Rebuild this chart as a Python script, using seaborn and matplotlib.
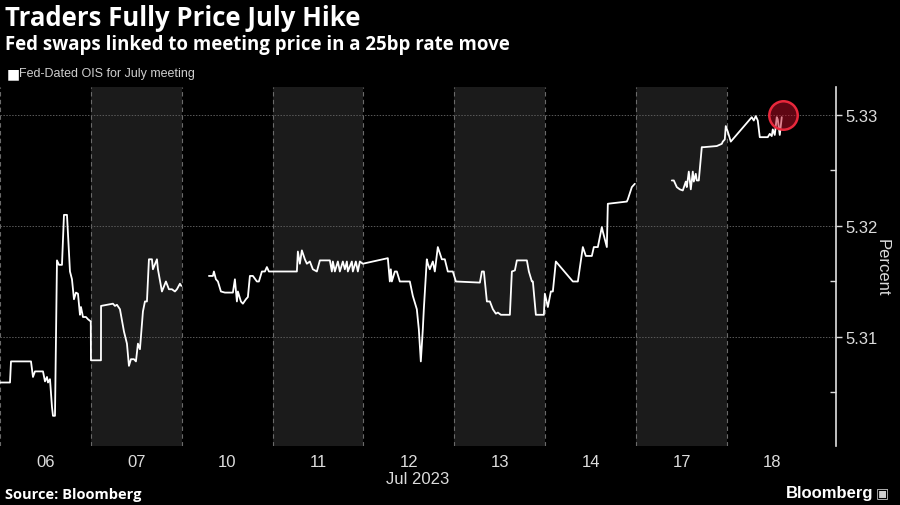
import numpy as np
import pandas as pd
import matplotlib
matplotlib.use("Agg")
import matplotlib.pyplot as plt
import seaborn as sns

# Fed-Dated OIS for July meeting, x = trading-day index (0 = Jul 06 open)
seg1_t = [0.000, 0.110, 0.121, 0.341, 0.363, 0.385, 0.473, 0.495, 0.517, 0.528, 0.550, 0.572,
          0.583, 0.605, 0.627, 0.649, 0.682, 0.704, 0.737, 0.770, 0.792, 0.814, 0.836, 0.858,
          0.880, 0.891, 0.913, 0.946, 0.968, 0.999, 1.001, 1.111, 1.112, 1.243, 1.265, 1.287,
          1.320, 1.364, 1.397, 1.419, 1.441, 1.474, 1.496, 1.518, 1.540, 1.573, 1.595, 1.617,
          1.639, 1.672, 1.683, 1.727, 1.738, 1.782, 1.826, 1.859, 1.892, 1.925, 1.947, 1.980,
          1.995]
seg1_v = [5.3059, 5.3059, 5.3078, 5.3078, 5.3064, 5.3069, 5.3069, 5.3060, 5.3064, 5.3059, 5.3062, 5.3037,
          5.3029, 5.3029, 5.3169, 5.3165, 5.3165, 5.3210, 5.3210, 5.3159, 5.3152, 5.3134, 5.3140, 5.3139,
          5.3120, 5.3127, 5.3118, 5.3118, 5.3116, 5.3114, 5.3079, 5.3079, 5.3128, 5.3130, 5.3128, 5.3129,
          5.3125, 5.3105, 5.3094, 5.3074, 5.3080, 5.3080, 5.3078, 5.3094, 5.3089, 5.3123, 5.3132, 5.3132,
          5.3170, 5.3170, 5.3161, 5.3170, 5.3161, 5.3141, 5.3150, 5.3143, 5.3143, 5.3141, 5.3143, 5.3148,
          5.3146]

seg2_t = [2.299, 2.343, 2.354, 2.376, 2.398, 2.431, 2.475, 2.563, 2.585, 2.607, 2.618, 2.651,
          2.673, 2.706, 2.728, 2.750, 2.783, 2.827, 2.849, 2.882, 2.915, 2.937, 2.959, 3.267,
          3.278, 3.300, 3.322, 3.355, 3.377, 3.410, 3.443, 3.487, 3.520, 3.630, 3.652, 3.663,
          3.685, 3.718, 3.740, 3.773, 3.795, 3.817, 3.828, 3.872, 3.883, 3.916, 3.938, 3.960,
          3.993, 4.268, 4.290, 4.301, 4.312, 4.345, 4.367, 4.400, 4.510, 4.543, 4.587, 4.609,
          4.631, 4.653, 4.664, 4.697, 4.708, 4.730, 4.763, 4.785, 4.818, 4.862, 4.895, 4.928,
          4.983, 5.017, 5.281, 5.303, 5.325, 5.358, 5.391, 5.424, 5.457, 5.479, 5.512, 5.611,
          5.633, 5.666, 5.688, 5.798, 5.820, 5.853, 5.864, 5.897, 5.985, 5.996, 6.029, 6.062,
          6.084, 6.117, 6.304, 6.359, 6.414, 6.447, 6.513, 6.535, 6.579, 6.623, 6.634, 6.678,
          6.689, 6.898, 6.909, 6.953, 6.986]
seg2_v = [5.3155, 5.3155, 5.3159, 5.3152, 5.3150, 5.3141, 5.3140, 5.3140, 5.3152, 5.3132, 5.3141, 5.3132,
          5.3130, 5.3134, 5.3136, 5.3155, 5.3155, 5.3150, 5.3150, 5.3159, 5.3159, 5.3163, 5.3159, 5.3159,
          5.3177, 5.3166, 5.3178, 5.3170, 5.3166, 5.3168, 5.3161, 5.3159, 5.3169, 5.3169, 5.3159, 5.3168,
          5.3159, 5.3168, 5.3159, 5.3168, 5.3161, 5.3168, 5.3159, 5.3168, 5.3159, 5.3168, 5.3159, 5.3168,
          5.3166, 5.3171, 5.3150, 5.3161, 5.3150, 5.3159, 5.3159, 5.3150, 5.3150, 5.3137, 5.3125, 5.3107,
          5.3078, 5.3107, 5.3125, 5.3170, 5.3166, 5.3161, 5.3168, 5.3159, 5.3181, 5.3170, 5.3170, 5.3159,
          5.3159, 5.3150, 5.3149, 5.3159, 5.3159, 5.3132, 5.3132, 5.3125, 5.3121, 5.3122, 5.3120, 5.3120,
          5.3159, 5.3160, 5.3169, 5.3169, 5.3159, 5.3150, 5.3150, 5.3120, 5.3120, 5.3139, 5.3127, 5.3141,
          5.3141, 5.3168, 5.3150, 5.3150, 5.3181, 5.3173, 5.3173, 5.3181, 5.3181, 5.3199, 5.3195, 5.3181,
          5.3220, 5.3222, 5.3224, 5.3235, 5.3238]

seg3_t = [7.393, 7.415, 7.448, 7.481, 7.514, 7.547, 7.558, 7.580, 7.602, 7.624, 7.635, 7.657,
          7.668, 7.690, 7.723, 7.745, 7.888, 7.943, 7.954, 7.976, 7.987, 8.009, 8.042, 8.273,
          8.295, 8.317, 8.339, 8.361, 8.449, 8.471, 8.493, 8.504, 8.526, 8.548, 8.559, 8.581,
          8.603]
seg3_v = [5.3241, 5.3241, 5.3235, 5.3233, 5.3232, 5.3240, 5.3235, 5.3249, 5.3233, 5.3249, 5.3240, 5.3247,
          5.3241, 5.3241, 5.3271, 5.3271, 5.3272, 5.3274, 5.3276, 5.3278, 5.3290, 5.3285, 5.3276, 5.3298,
          5.3295, 5.3299, 5.3295, 5.3280, 5.3280, 5.3283, 5.3281, 5.3287, 5.3282, 5.3298, 5.3296, 5.3282,
          5.3298]

last_t = 8.614
last_v = 5.33

day_labels = ["06", "07", "10", "11", "12", "13", "14", "17", "18"]
shaded_days = [1, 3, 5, 7]
y_ticks = [5.31, 5.32, 5.33]

df = pd.concat([
    pd.DataFrame({"t": seg1_t, "v": seg1_v, "seg": 1}),
    pd.DataFrame({"t": seg2_t, "v": seg2_v, "seg": 2}),
    pd.DataFrame({"t": seg3_t, "v": seg3_v, "seg": 3}),
])

sns.set_style("dark")
plt.rcParams["font.family"] = ["Liberation Sans", "DejaVu Sans"]

bg = "#000000"
fig = plt.figure(figsize=(9, 5.06), dpi=100, facecolor=bg)
ax = fig.add_axes([0.0, 0.1166, 0.9289, 0.7095])
ax.set_facecolor(bg)

# day bands and dashed separators
for d in shaded_days:
    ax.axvspan(d, d + 1, color="#1b1b1b", lw=0, zorder=0)
for d in range(len(day_labels)):
    ax.axvline(d, color="#6a6a6a", lw=0.8, ls=(0, (4, 3)), zorder=1)
for yt in y_ticks:
    ax.axhline(yt, color="#5a5a5a", lw=0.7, ls=(0, (1.5, 1.5)), zorder=1)

sns.lineplot(data=df, x="t", y="v", units="seg", estimator=None, sort=False,
             color="white", lw=1.3, ax=ax, zorder=3)

ax.scatter([last_t], [last_v], s=420, facecolor=(0.75, 0.05, 0.15, 0.5),
           edgecolor="#e8283c", linewidth=1.8, zorder=4)

ax.set_xlim(0, 9.2)
ax.set_ylim(5.30018, 5.33252)
ax.set_xticks([d + 0.5 for d in range(len(day_labels))])
ax.set_xticklabels(day_labels)
ax.set_yticks(y_ticks)
ax.set_yticklabels([f"{y:.2f}" for y in y_ticks])
ax.set_yticks([5.305, 5.315, 5.325], minor=True)
ax.yaxis.tick_right()
ax.yaxis.set_label_position("right")
ax.tick_params(axis="x", length=0, colors="#dcdcdc", labelsize=12, pad=6)
ax.tick_params(axis="y", which="major", length=4, width=1, colors="#dcdcdc",
               labelsize=12, pad=3, direction="out")
ax.tick_params(axis="y", which="minor", length=4, width=1, color="#dcdcdc",
               direction="in", right=True)
ax.set_xlabel("Jul 2023", color="#dcdcdc", fontsize=12, labelpad=1)
ax.set_ylabel("Percent", color="#dcdcdc", fontsize=12, rotation=270, labelpad=8)
ax.grid(False)
for s in ["left", "top", "bottom"]:
    ax.spines[s].set_visible(False)
ax.spines["right"].set_color("#e0e0e0")
ax.spines["right"].set_linewidth(1.2)

fig.text(0.006, 0.963, "Traders Fully Price July Hike", color="white", fontsize=18.5,
         fontweight="bold", family=["Open Sans", "DejaVu Sans"], va="center")
fig.text(0.006, 0.912, "Fed swaps linked to meeting price in a 25bp rate move", color="white",
         fontsize=13.4, fontweight="bold", family=["Open Sans", "DejaVu Sans"], va="center")
fig.text(0.007, 0.853, "\u25a0", color="white", fontsize=10, va="center",
         family=["DejaVu Sans"])
fig.text(0.021, 0.853, "Fed-Dated OIS for July meeting", color="#cfcfcf", fontsize=9,
         va="center")
fig.text(0.006, 0.022, "Source: Bloomberg", color="white", fontsize=10.5, fontweight="bold",
         family=["Open Sans", "DejaVu Sans"], va="center")
fig.text(0.970, 0.025, "Bloomberg", color="white", fontsize=12, fontweight="bold",
         ha="right", va="center")
fig.text(0.988, 0.025, "\u25a3", color="#cfcfcf", fontsize=10, ha="right", va="center",
         family=["DejaVu Sans"])

fig.savefig("out.png", dpi=100, facecolor=bg)
